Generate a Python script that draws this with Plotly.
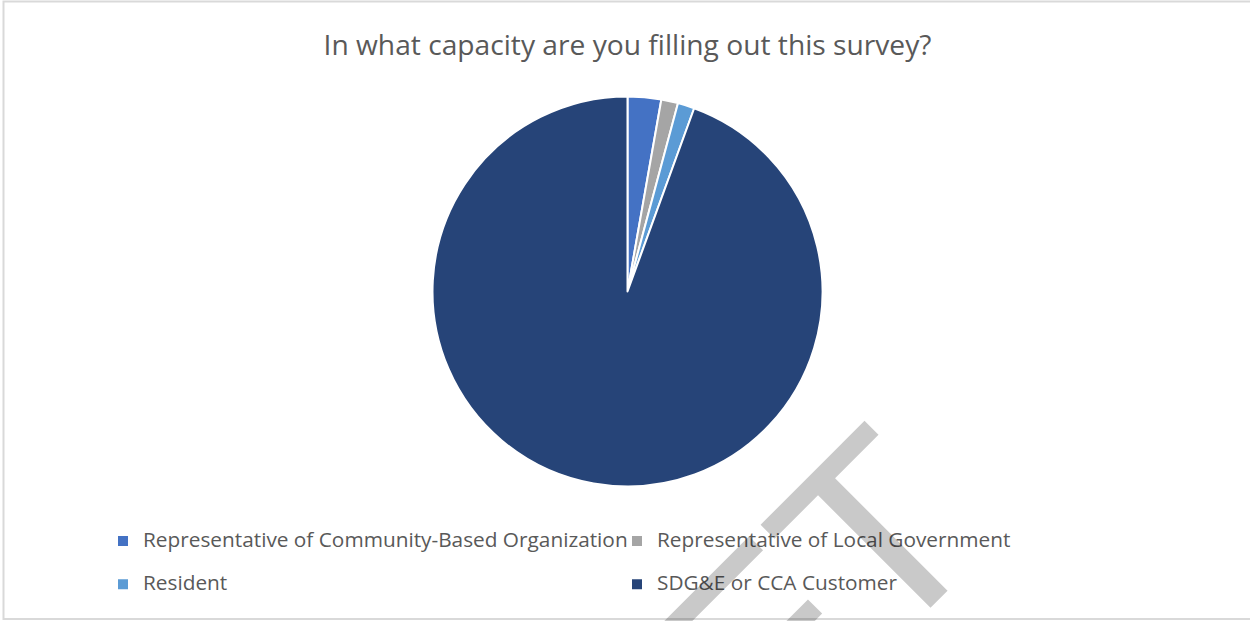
import plotly.graph_objects as go

# survey responses
capacity = [
    "Representative of Community-Based Organization",
    "Representative of Local Government",
    "Resident",
    "SDG&E or CCA Customer",
]
responses = [2, 1, 1, 68]
slice_colors = ["#4472C4", "#A5A5A5", "#5B9BD5", "#264478"]

W, H = 1250, 621
TEXT = "#595959"
FONT = "'Open Sans', 'Noto Sans', sans-serif"

# legend rows in the original are spaced wider than the label text,
# so the legend font sets the row height and a span sets the text size
legend_labels = [
    f'<span style="font-size:20.8px;baseline-shift:6px">{c}</span>' for c in capacity
]

fig = go.Figure(
    go.Pie(
        labels=legend_labels,
        values=responses,
        sort=False,
        direction="clockwise",
        rotation=0,
        marker=dict(colors=slice_colors, line=dict(color="white", width=2)),
        textinfo="none",
        customdata=capacity,
        hovertemplate="%{customdata}: %{value} (%{percent})<extra></extra>",
        domain=dict(x=[0.346, 0.658], y=[0.2166, 0.8446]),
    )
)

fig.update_layout(
    width=W,
    height=H,
    margin=dict(l=0, r=0, t=0, b=0),
    paper_bgcolor="white",
    font=dict(family=FONT, color=TEXT),
    title=dict(
        text="In what capacity are you filling out this survey?",
        x=0.502, xanchor="center",
        y=1 - 45 / H, yanchor="middle",
        font=dict(size=28.2, color=TEXT),
    ),
    legend=dict(
        orientation="h",
        x=103 / W, xanchor="left",
        y=1 - 514.3 / H, yanchor="top",
        entrywidth=469, entrywidthmode="pixels",
        font=dict(size=31, color=TEXT),
        bgcolor="rgba(0,0,0,0)",
    ),
)

# DRAFT watermark, mostly below the page edge
fig.add_annotation(
    text="DRAFT",
    xref="paper", yref="paper",
    x=0.5, y=1 - 786 / H,
    xanchor="center", yanchor="middle",
    textangle=-45,
    showarrow=False,
    font=dict(family="Liberation Sans", size=260, color="rgba(0,0,0,0.21)"),
)

# chart border
fig.add_shape(
    type="rect", xref="paper", yref="paper",
    x0=3.5 / W, x1=1.01, y0=2 / H, y1=1 - 1.5 / H,
    line=dict(color="#d9d9d9", width=2),
)

fig.write_html(
    "out.html",
    config={"displayModeBar": False},
    post_script="document.body.style.margin='0';",
)
